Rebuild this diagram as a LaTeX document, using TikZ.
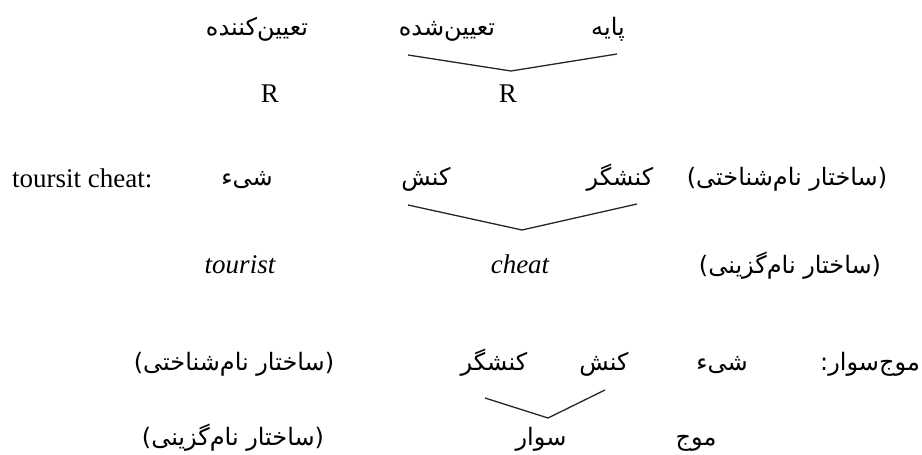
\documentclass[tikz,border=0pt]{standalone}
\usepackage{fontspec}
\setmainfont{Liberation Serif}
\newfontfamily\farsifont[Script=Arabic]{DejaVu Sans}
\TeXXeTstate=1
\newcommand{\fa}[1]{\beginR #1\endR}
\usetikzlibrary{calc}

\begin{document}
\begin{tikzpicture}[x=1pt,y=-1pt,
    word/.style={inner sep=0pt,anchor=base,font=\fontsize{27}{30}\selectfont},
    eword/.style={word,font=\fontsize{27}{30}\selectfont\itshape},
    fword/.style={inner sep=0pt,anchor=base,font=\farsifont\fontsize{24}{28}\selectfont},
    branch/.style={line width=1.3pt,black!85}
  ]
  \useasboundingbox (0,0) rectangle (922,455);

  % R R
  \node[fword] (tkonande) at (257,35) {\fa{تعیین‌کننده}};
  \node[fword] (tshode) at (447,35) {\fa{تعیین‌شده}};
  \node[fword] (paye) at (608,35) {\fa{پایه}};
  \node[word] (ra) at (270,102) {R};
  \node[word] (rb) at (508,102) {R};
  \coordinate (ta) at (408,55);
  \coordinate (tv) at (511,71);
  \coordinate (tb) at (617,54);
  \draw[branch] (ta) -- (tv) -- (tb);

  % toursit cheat
  \node[word,anchor=base west] (tc) at (12,187) {toursit cheat:};
  \node[fword] (shey) at (247,185) {\fa{شیء}};
  \node[fword] (konesh) at (426,185) {\fa{کنش}};
  \node[fword] (koneshgar) at (620,185) {\fa{کنشگر}};
  \node[fword] (shenakhti) at (787,185) {\fa{(ساختار نام‌شناختی)}};
  \node[eword] (tourist) at (240,273) {tourist};
  \node[eword] (cheat) at (520,273) {cheat};
  \node[fword] (gozini) at (790,273) {\fa{(ساختار نام‌گزینی)}};
  \coordinate (ca) at (408,205);
  \coordinate (cv) at (522,230);
  \coordinate (cb) at (637,204);
  \draw[branch] (ca) -- (cv) -- (cb);

  % mowjsavar
  \node[fword,anchor=base east] (mowjsavar) at (920,370) {\fa{موج‌سوار:}};
  \node[fword] (shey2) at (722,370) {\fa{شیء}};
  \node[fword] (konesh2) at (604,370) {\fa{کنش}};
  \node[fword] (koneshgar2) at (494,370) {\fa{کنشگر}};
  \node[fword] (shenakhti2) at (234,370) {\fa{(ساختار نام‌شناختی)}};
  \node[fword] (mowj) at (696,445) {\fa{موج}};
  \node[fword] (savar) at (541,445) {\fa{سوار}};
  \node[fword] (gozini2) at (233,445) {\fa{(ساختار نام‌گزینی)}};
  \coordinate (ma) at (485,398);
  \coordinate (mv) at (548,418);
  \coordinate (mb) at (605,390);
  \draw[branch] (ma) -- (mv) -- (mb);
\end{tikzpicture}
\end{document}
